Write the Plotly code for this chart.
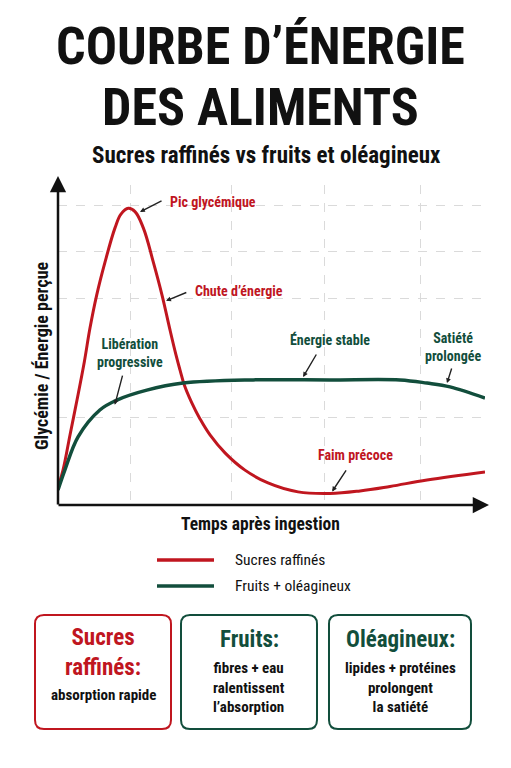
import plotly.graph_objects as go

# ---------------- data ----------------
time_red = [0, 1.17, 2.81, 4.45, 6.16, 7.49, 9.06, 11.01, 13.35, 14.75, 16.46, 18.03, 19.98, 22.32,
            24.36, 26.23, 27.63, 28.57, 29.58, 31.31, 33.26, 35.60, 39.11, 43.79, 49.18, 56.21,
            63.70, 70.73, 77.75, 86.42, 100]
sucres = [5.6, 10.9, 21.9, 32.8, 44.7, 55.3, 65.6, 75.9, 86.6, 90.9, 92.7, 91.7, 86.6, 75.9,
          65.6, 54.7, 46.9, 42.2, 37.5, 32.0, 26.9, 21.9, 16.3, 10.9, 6.9, 4.1,
          3.6, 4.4, 5.8, 7.8, 10.3]

time_green = [0, 1.6, 4.7, 9.8, 13.8, 20.8, 29.3, 45.7, 63.7, 80.1, 86.4, 91.8, 100]
fruits = [4.7, 10.9, 21.3, 29.7, 32.8, 35.9, 38.1, 39.1, 39.1, 39.1, 38.1, 36.9, 33.4]

series_names = ["Sucres raffinés", "Fruits + oléagineux"]
grid_x = [16.9, 40.7, 62.5, 85.0]
grid_y = [27.5, 64.4, 79.1, 93.75]

# callouts
callout_text = ["Pic glycémique", "Chute d’énergie", "Libération<br>progressive",
                "Énergie stable", "Satiété<br>prolongée", "Faim précoce"]
callout_tx = [25.8, 31.6, 16.9, 63.7, 92.5, 69.6]
callout_ty = [94.7, 66.9, 47.5, 51.6, 49.4, 15.6]
callout_anchor = ["left", "left", "center", "center", "center", "center"]
callout_px = [19.2, 25.3, 13.3, 57.4, 91.1, 64.2]
callout_py = [91.6, 63.8, 31.3, 40.0, 38.1, 4.2]
callout_ax = [24.6, 30.4, 15.2, 60.7, 92.3, 67.7]
callout_ay = [95.3, 66.6, 40.9, 47.5, 43.1, 11.3]
callout_series = [0, 0, 1, 1, 1, 0]

box_titles = ["Sucres<br>raffinés:", "Fruits:", "Oléagineux:"]
box_bodies = ["absorption rapide", "fibres + eau<br>ralentissent<br>l’absorption",
              "lipides + protéines<br>prolongent<br>la satiété"]
box_series = [0, 1, 1]

# ---------------- style ----------------
RED = "#C0161F"
GREEN = "#124E3C"
COLORS = [RED, GREEN]
FONT = "Roboto Condensed, Liberation Sans Narrow, DejaVu Sans Condensed, sans-serif"

W, H = 511, 768
OFF = 8  # page body margin
PL, PT, PR, PB = 58, 185, 485, 505  # plot area in screen pixels
PW, PH = PR - PL, PB - PT
L, T = PL - OFF, PT - OFF
R, B = W - (PR - OFF), H - (PB - OFF)


def px2paper(x, y):
    return (x - PL) / PW, (PB - y) / PH


fig = go.Figure()
fig.add_trace(go.Scatter(x=time_red, y=sucres, mode="lines", name=series_names[0],
                         line=dict(color=RED, width=3, shape="spline", smoothing=1.1),
                         cliponaxis=False, showlegend=False))
fig.add_trace(go.Scatter(x=time_green, y=fruits, mode="lines", name=series_names[1],
                         line=dict(color=GREEN, width=3.5, shape="spline", smoothing=1.0),
                         cliponaxis=False, showlegend=False))

ann = []
# titles
for txt, yy in [("COURBE D’ÉNERGIE", 46.5), ("DES ALIMENTS", 107.5)]:
    tx, ty = px2paper(260, yy)
    ann.append(dict(text=f"<b>{txt}</b>", xref="paper", yref="paper", x=tx, y=ty, showarrow=False,
                    font=dict(family=FONT, size=52, color="#111"), xanchor="center", yanchor="middle"))
tx, ty = px2paper(266, 155)
ann.append(dict(text="<b>Sucres raffinés vs fruits et oléagineux</b>", xref="paper", yref="paper",
                x=tx, y=ty, showarrow=False,
                font=dict(family=FONT, size=23, color="#111"), xanchor="center", yanchor="middle"))
# axis arrows
ann.append(dict(text="", xref="paper", yref="paper", x=0, y=px2paper(58, 176)[1],
                axref="pixel", ayref="pixel", ax=0, ay=330, showarrow=True,
                arrowhead=2, arrowsize=1.3, arrowwidth=2.5, arrowcolor="#111"))
ann.append(dict(text="", xref="paper", yref="paper", x=px2paper(489, 505)[0], y=0,
                axref="pixel", ayref="pixel", ax=-432, ay=0, showarrow=True,
                arrowhead=2, arrowsize=1.3, arrowwidth=2.5, arrowcolor="#111"))
# axis titles
tx, ty = px2paper(41, 356)
ann.append(dict(text="<b>Glycémie / Énergie perçue</b>", xref="paper", yref="paper",
                x=tx, y=ty, textangle=-90, showarrow=False,
                font=dict(family=FONT, size=18, color="#111"), xanchor="center", yanchor="middle"))
tx, ty = px2paper(260, 524)
ann.append(dict(text="<b>Temps après ingestion</b>", xref="paper", yref="paper",
                x=tx, y=ty, showarrow=False,
                font=dict(family=FONT, size=17.5, color="#111"), xanchor="center", yanchor="middle"))
# callouts
for i in range(len(callout_text)):
    c = COLORS[callout_series[i]]
    ann.append(dict(text=f"<b>{callout_text[i]}</b>", x=callout_tx[i], y=callout_ty[i],
                    xanchor=callout_anchor[i], yanchor="middle", showarrow=False,
                    font=dict(family=FONT, size=14, color=c)))
    ann.append(dict(text="", x=callout_px[i], y=callout_py[i], axref="x", ayref="y",
                    ax=callout_ax[i], ay=callout_ay[i], showarrow=True,
                    arrowhead=2, arrowsize=0.7, arrowwidth=1.4, arrowcolor="#222"))

shapes = []
# legend
for i, (yy, name) in enumerate(zip([560, 586], series_names)):
    x0, y0 = px2paper(157, yy)
    x1, _ = px2paper(214, yy)
    shapes.append(dict(type="line", xref="paper", yref="paper", x0=x0, x1=x1, y0=y0, y1=y0,
                       line=dict(color=COLORS[i], width=3.5)))
    tx, ty = px2paper(233, yy)
    ann.append(dict(text=name, xref="paper", yref="paper", x=tx, y=ty, xanchor="left",
                    yanchor="middle", showarrow=False, font=dict(family=FONT, size=15.5, color="#111")))


def rounded_rect(x0, y0, x1, y1, r):
    def p(x, y):
        a, b = px2paper(x, y)
        return f"{a:.5f},{b:.5f}"
    return (f"M {p(x0 + r, y0)} L {p(x1 - r, y0)} Q {p(x1, y0)} {p(x1, y0 + r)} "
            f"L {p(x1, y1 - r)} Q {p(x1, y1)} {p(x1 - r, y1)} L {p(x0 + r, y1)} "
            f"Q {p(x0, y1)} {p(x0, y1 - r)} L {p(x0, y0 + r)} Q {p(x0, y0)} {p(x0 + r, y0)} Z")


box_x = [(35, 171), (181, 317), (329, 471)]
for i in range(3):
    x0, x1 = box_x[i]
    c = COLORS[box_series[i]]
    shapes.append(dict(type="path", xref="paper", yref="paper",
                       path=rounded_rect(x0, 615, x1, 729, 9),
                       line=dict(color=c, width=2), fillcolor="white"))
    cx = (x0 + x1) / 2
    if i == 0:
        tx, ty = px2paper(cx, 652)
        bx, by = px2paper(cx, 695)
    else:
        tx, ty = px2paper(cx, 639)
        bx, by = px2paper(cx, 687)
    ann.append(dict(text=f"<b>{box_titles[i]}</b>", xref="paper", yref="paper", x=tx, y=ty,
                    showarrow=False, xanchor="center", yanchor="middle",
                    font=dict(family=FONT, size=23, color=c)))
    ann.append(dict(text=f"<b>{box_bodies[i]}</b>", xref="paper", yref="paper", x=bx, y=by,
                    showarrow=False, xanchor="center", yanchor="middle",
                    font=dict(family=FONT, size=15, color="#111")))

fig.update_layout(
    width=W, height=H, margin=dict(l=L, r=R, t=T, b=B, autoexpand=False),
    paper_bgcolor="white", plot_bgcolor="white",
    annotations=ann, shapes=shapes, showlegend=False,
    font=dict(family=FONT),
)
fig.update_xaxes(range=[0, 100], tickvals=grid_x, showticklabels=False, ticks="",
                 showgrid=True, gridcolor="#DADADA", griddash="dash", gridwidth=1,
                 zeroline=False, showline=False, fixedrange=True)
fig.update_yaxes(range=[0, 100], tickvals=grid_y, showticklabels=False, ticks="",
                 showgrid=True, gridcolor="#DADADA", griddash="dash", gridwidth=1,
                 zeroline=False, showline=False, fixedrange=True)

fig.write_html("out.html")
